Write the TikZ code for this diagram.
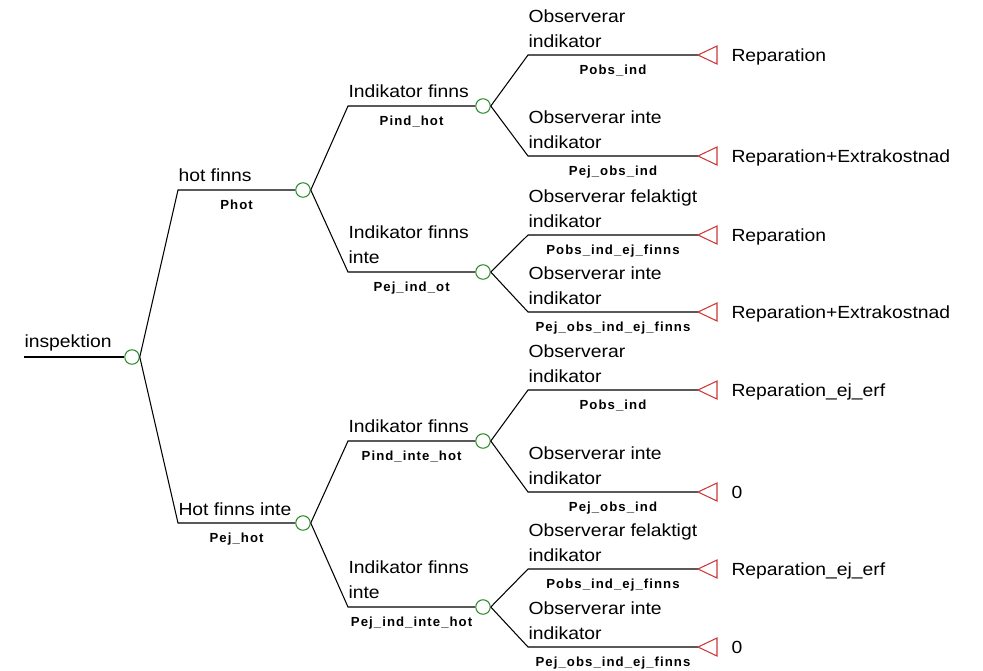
\documentclass[tikz,border=0pt]{standalone}
\usepackage{fontspec}
\setmainfont{Liberation Sans}[FakeStretch=1.1]
\newfontfamily\probfont{Liberation Sans}[LetterSpace=8]
\usetikzlibrary{calc, positioning}
\definecolor{chancegreen}{RGB}{40,140,40}
\definecolor{payoffred}{RGB}{205,55,55}

\begin{document}
\begin{tikzpicture}[x=0.02cm, y=-0.02cm, line width=0.6pt,
  branch/.style={black},
  chance/.style={circle, draw=chancegreen, minimum size=0.29cm, inner sep=0pt},
  payoff/.style={draw=payoffred, line join=miter},
  event/.style={anchor=base west, inner sep=0pt, align=left, font=\fontsize{10}{13.7}\selectfont},
  prob/.style={anchor=base, inner sep=0pt, font=\probfont\bfseries\fontsize{7.5}{8}\selectfont},
  result/.style={anchor=base west, inner sep=0pt, font=\fontsize{10}{12}\selectfont}]
\useasboundingbox (0,0) rectangle (983,670);

% chance nodes
\node[chance] (c0) at (132,357) {};
\node[chance] (c1) at (303,190) {};
\node[chance] (c2) at (303,523) {};
\node[chance] (c11) at (483,106) {};
\node[chance] (c12) at (483,272) {};
\node[chance] (c21) at (483,441) {};
\node[chance] (c22) at (483,607) {};

% corners of the branches
\coordinate (r0) at (24,357);
\coordinate (k1) at (178,190);
\coordinate (k2) at (178,523);
\coordinate (k11) at (348,106);
\coordinate (k12) at (348,272);
\coordinate (k21) at (348,441);
\coordinate (k22) at (348,607);
\coordinate (k111) at (528,55);
\coordinate (k112) at (528,156);
\coordinate (k121) at (528,235);
\coordinate (k122) at (528,312);
\coordinate (k211) at (528,390);
\coordinate (k212) at (528,492);
\coordinate (k221) at (528,569);
\coordinate (k222) at (528,647);

% end points
\coordinate (t111) at (698,55);
\coordinate (t112) at (698,156);
\coordinate (t121) at (698,235);
\coordinate (t122) at (698,312);
\coordinate (t211) at (698,390);
\coordinate (t212) at (698,492);
\coordinate (t221) at (698,569);
\coordinate (t222) at (698,647);

\draw[branch] (r0) -- (c0.west);
\node[event] at ($(r0)+(0,-10)$) {inspektion};

\draw[branch] (c0.east) -- (k1) -- (c1.west);
\draw[branch] (c0.east) -- (k2) -- (c2.west);
\node[event] at ($(k1)+(0,-9)$) {hot finns};
\node[prob] at ($(k1)!0.5!(c1.west)+(0,19)$) {Phot};
\node[event] at ($(k2)+(0,-8)$) {Hot finns inte};
\node[prob] at ($(k2)!0.5!(c2.west)+(0,19)$) {Pej\_hot};

\draw[branch] (c1.east) -- (k11) -- (c11.west);
\draw[branch] (c1.east) -- (k12) -- (c12.west);
\node[event] at ($(k11)+(0,-9)$) {Indikator finns};
\node[prob] at ($(k11)!0.5!(c11.west)+(0,19)$) {Pind\_hot};
\node[event] at ($(k12)+(0,-9)$) {Indikator finns\\inte};
\node[prob] at ($(k12)!0.5!(c12.west)+(0,19)$) {Pej\_ind\_ot};

\draw[branch] (c2.east) -- (k21) -- (c21.west);
\draw[branch] (c2.east) -- (k22) -- (c22.west);
\node[event] at ($(k21)+(0,-9)$) {Indikator finns};
\node[prob] at ($(k21)!0.5!(c21.west)+(0,19)$) {Pind\_inte\_hot};
\node[event] at ($(k22)+(0,-9)$) {Indikator finns\\inte};
\node[prob] at ($(k22)!0.5!(c22.west)+(0,19)$) {Pej\_ind\_inte\_hot};

\draw[branch] (c11.east) -- (k111) -- (t111);
\draw[branch] (c11.east) -- (k112) -- (t112);
\draw[branch] (c12.east) -- (k121) -- (t121);
\draw[branch] (c12.east) -- (k122) -- (t122);
\draw[branch] (c21.east) -- (k211) -- (t211);
\draw[branch] (c21.east) -- (k212) -- (t212);
\draw[branch] (c22.east) -- (k221) -- (t221);
\draw[branch] (c22.east) -- (k222) -- (t222);

\node[event] at ($(k111)+(0,-8)$) {Observerar\\indikator};
\node[prob] at ($(k111)!0.5!(t111)+(0,19)$) {Pobs\_ind};
\node[event] at ($(k112)+(0,-8)$) {Observerar inte\\indikator};
\node[prob] at ($(k112)!0.5!(t112)+(0,19)$) {Pej\_obs\_ind};
\node[event] at ($(k121)+(0,-8)$) {Observerar felaktigt\\indikator};
\node[prob] at ($(k121)!0.5!(t121)+(0,19)$) {Pobs\_ind\_ej\_finns};
\node[event] at ($(k122)+(0,-8)$) {Observerar inte\\indikator};
\node[prob] at ($(k122)!0.5!(t122)+(0,19)$) {Pej\_obs\_ind\_ej\_finns};
\node[event] at ($(k211)+(0,-8)$) {Observerar\\indikator};
\node[prob] at ($(k211)!0.5!(t211)+(0,19)$) {Pobs\_ind};
\node[event] at ($(k212)+(0,-8)$) {Observerar inte\\indikator};
\node[prob] at ($(k212)!0.5!(t212)+(0,19)$) {Pej\_obs\_ind};
\node[event] at ($(k221)+(0,-8)$) {Observerar felaktigt\\indikator};
\node[prob] at ($(k221)!0.5!(t221)+(0,19)$) {Pobs\_ind\_ej\_finns};
\node[event] at ($(k222)+(0,-8)$) {Observerar inte\\indikator};
\node[prob] at ($(k222)!0.5!(t222)+(0,19)$) {Pej\_obs\_ind\_ej\_finns};

% terminal nodes
\draw[payoff] (t111) -- ++(19,-9) -- ++(0,18) -- cycle;
\draw[payoff] (t112) -- ++(19,-9) -- ++(0,18) -- cycle;
\draw[payoff] (t121) -- ++(19,-9) -- ++(0,18) -- cycle;
\draw[payoff] (t122) -- ++(19,-9) -- ++(0,18) -- cycle;
\draw[payoff] (t211) -- ++(19,-9) -- ++(0,18) -- cycle;
\draw[payoff] (t212) -- ++(19,-9) -- ++(0,18) -- cycle;
\draw[payoff] (t221) -- ++(19,-9) -- ++(0,18) -- cycle;
\draw[payoff] (t222) -- ++(19,-9) -- ++(0,18) -- cycle;

\node[result] at ($(t111)+(33,6)$) {Reparation};
\node[result] at ($(t112)+(33,6)$) {Reparation+Extrakostnad};
\node[result] at ($(t121)+(33,6)$) {Reparation};
\node[result] at ($(t122)+(33,6)$) {Reparation+Extrakostnad};
\node[result] at ($(t211)+(33,6)$) {Reparation\_ej\_erf};
\node[result] at ($(t212)+(33,6)$) {0};
\node[result] at ($(t221)+(33,6)$) {Reparation\_ej\_erf};
\node[result] at ($(t222)+(33,6)$) {0};

\end{tikzpicture}
\end{document}
